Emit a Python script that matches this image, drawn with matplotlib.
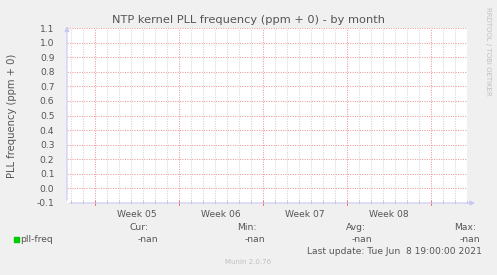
import numpy as np
import matplotlib
matplotlib.use("Agg")
import matplotlib.pyplot as plt

# time axis in days since the left edge (munin "month" = 800 hours)
span_days = 800 / 24.0
week_start = 2.33          # first Monday 00:00 inside the window
week_labels = ["Week 05", "Week 06", "Week 07", "Week 08"]
y_ticks = [-0.1, 0.0, 0.1, 0.2, 0.3, 0.4, 0.5, 0.6, 0.7, 0.8, 0.9, 1.0, 1.1]
y_min, y_max = -0.1, 1.1

legend_name = "pll-freq"
legend_cols = ["Cur:", "Min:", "Avg:", "Max:"]
legend_vals = ["-nan", "-nan", "-nan", "-nan"]
last_update = "Last update: Tue Jun  8 19:00:00 2021"

W, H = 497, 275
fig = plt.figure(figsize=(W / 100, H / 100), dpi=100, facecolor="#F0F0F0")
ax = fig.add_axes([67 / W, 1 - 203 / H, 400 / W, 175 / H])
ax.set_facecolor("white")

txt = "#555555"
fs = 6.6
dot = (0, (1, 1.3))

def px(x, y):
    return x / W, 1 - y / H

weeks = np.arange(week_start, span_days, 7.0)
days = np.arange(week_start - 2, span_days, 1.0)
days = [d for d in days if d > 0 and min(abs(d - weeks)) > 0.1]

# minor grid (days)
for d in days:
    ax.axvline(d, color="#D4D4D4", lw=0.75, ls=dot, zorder=1, snap=True)
# horizontal grid
for v in y_ticks[1:]:
    ax.axhline(v, color="#EE9A9A", lw=0.75, ls=dot, zorder=2, snap=True)
# major grid (weeks)
for d in weeks:
    ax.axvline(d, color="#EE9A9A", lw=0.75, ls=dot, zorder=2, snap=True)

ax.set_xlim(0, span_days)
ax.set_ylim(y_min, y_max)
for s in ax.spines.values():
    s.set_visible(False)
ax.tick_params(left=False, bottom=False, labelbottom=False)
ax.set_yticks(y_ticks)
ax.set_yticklabels(["%.1f" % v for v in y_ticks], color=txt, fontsize=fs)
ax.tick_params(axis="y", pad=5.5)

# tick marks on the x axis
for d in days:
    ax.plot([d, d], [y_min, y_min + 0.012], color="#BBBBBB", lw=0.6, clip_on=False, zorder=3)
for d in weeks:
    ax.plot([d, d], [y_min - 0.012, y_min + 0.015], color="#F07070", lw=0.7, clip_on=False, zorder=3)

# axes with arrows
axis_col = "#C8C8F4"
ax.annotate("", xy=(span_days + 0.9, y_min), xytext=(0, y_min),
            arrowprops=dict(arrowstyle="-|>", color=axis_col, lw=0.8, mutation_scale=7),
            annotation_clip=False, zorder=4)
ax.annotate("", xy=(0, y_max + 0.03), xytext=(0, y_min),
            arrowprops=dict(arrowstyle="-|>", color=axis_col, lw=0.8, mutation_scale=7),
            annotation_clip=False, zorder=4)

for i, lab in enumerate(week_labels):
    ax.text(weeks[i] + 3.5, y_min - 0.045, lab, ha="center", va="top", color=txt, fontsize=fs)

fig.text(*px(249, 20), "NTP kernel PLL frequency (ppm + 0) - by month",
         ha="center", va="center", color=txt, fontsize=8.2)
fig.text(*px(12, 116), "PLL frequency (ppm + 0)", rotation=90,
         ha="center", va="center", color=txt, fontsize=7.2)
fig.text(*px(488, 51), "RRDTOOL / TOBI OETIKER", rotation=270,
         ha="center", va="center", color="#C0C0C0", fontsize=5.0)

# legend
fig.patches.append(plt.Rectangle(px(14, 242), 5 / W, 5 / H, transform=fig.transFigure,
                                 color="#00CC00", figure=fig))
fig.text(*px(20, 239), legend_name, ha="left", va="center", color=txt, fontsize=fs)
col_x = [148, 257, 366, 476]
val_x = [158, 265, 372, 480]
for i in range(4):
    fig.text(*px(col_x[i], 227), legend_cols[i], ha="right", va="center", color=txt, fontsize=fs)
    fig.text(*px(val_x[i], 239), legend_vals[i], ha="right", va="center", color=txt, fontsize=fs)
fig.text(*px(482, 251), last_update, ha="right", va="center", color=txt, fontsize=fs)
fig.text(*px(248, 262), "Munin 2.0.76", ha="center", va="center", color="#C0C0C0", fontsize=5.0)

fig.savefig("out.png", dpi=100, facecolor=fig.get_facecolor())
